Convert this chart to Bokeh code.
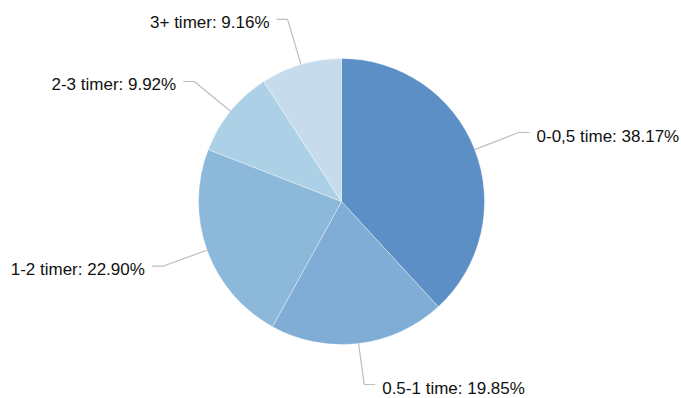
import numpy as np
from bokeh.plotting import figure
from bokeh.models import Range1d, ColumnDataSource
from bokeh.core.properties import value
from bokeh.embed import file_html
from bokeh.resources import INLINE

# Share of respondents per duration bucket (percent)
categories = ["0-0,5 time", "0.5-1 time", "1-2 timer", "2-3 timer", "3+ timer"]
shares = [38.17, 19.85, 22.90, 9.92, 9.16]
colors = ["#5b8fc5", "#80add5", "#8cb8d9", "#acd0e5", "#c6dcec"]

W, H = 681, 398
cx, cy, radius = 341, 197, 143
knee_radius = 190      # where the leader line bends
arm = 11               # horizontal part of the leader
gap = 18               # knee to text anchor
edge_pad = 14          # keep labels inside the canvas

frac = np.array(shares) / sum(shares)
ends = np.cumsum(frac)
starts = ends - frac

# slices run clockwise from 12 o'clock
start_angle = np.pi / 2 - 2 * np.pi * starts
end_angle = np.pi / 2 - 2 * np.pi * ends

pie = ColumnDataSource(dict(
    start=start_angle, end=end_angle, color=colors,
))

mid = 2 * np.pi * (starts + ends) / 2
sx, sy = np.sin(mid), np.cos(mid)
side = np.where(sx >= 0, 1, -1)

edge_x = cx + radius * sx
edge_y = cy + radius * sy
knee_x = cx + knee_radius * sx
knee_y = np.clip(cy + knee_radius * sy, edge_pad, H - edge_pad)
arm_x = knee_x + arm * side

leaders = ColumnDataSource(dict(
    xs=[[a, b, c] for a, b, c in zip(edge_x, knee_x, arm_x)],
    ys=[[a, b, b] for a, b in zip(edge_y, knee_y)],
))

labels = ColumnDataSource(dict(
    x=knee_x + gap * side,
    y=knee_y - 3.5,
    text=[f"{c}: {s:.2f}%" for c, s in zip(categories, shares)],
    align=["left" if s > 0 else "right" for s in side],
))

p = figure(width=W, height=H, x_range=Range1d(0, W), y_range=Range1d(0, H),
           output_backend="svg", toolbar_location=None,
           x_axis_location=None, y_axis_location=None,
           min_border=0, outline_line_color=None)
p.grid.visible = False
p.background_fill_color = "white"
p.border_fill_color = "white"

p.wedge(x=cx, y=cy, radius=radius, start_angle="start", end_angle="end",
        direction="clock", fill_color="color", line_color="white",
        line_alpha=0.35, line_width=1, source=pie)

p.multi_line(xs="xs", ys="ys", line_color="#bdbdbd", line_width=1.2,
             source=leaders)

p.text(x="x", y="y", text="text", text_align="align", text_baseline="middle",
       text_font=value("Liberation Sans"), text_font_size=value("17px"),
       text_color="#111111", source=labels)

open("out.html", "w").write(file_html(p, INLINE))
